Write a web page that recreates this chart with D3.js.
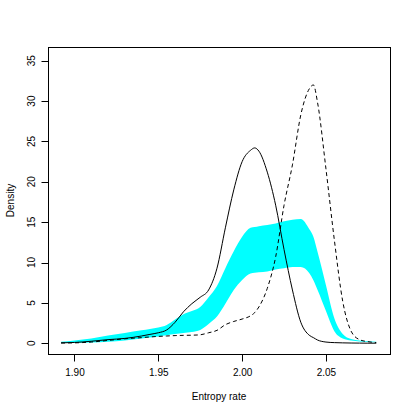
<!DOCTYPE html>
<html>
<head>
<meta charset="utf-8">
<script src="https://cdn.jsdelivr.net/npm/d3@7"></script>
<style>
body { margin: 0; background: #fff; }
text { font-family: "Liberation Sans", Arial, sans-serif; font-size: 10px; fill: #000; }
</style>
</head>
<body>
<svg id="chart" width="415" height="415"></svg>
<script>
// grid of entropy rate values the curves were read at
var rates = [1.892, 1.900, 1.910, 1.920, 1.930, 1.940, 1.945, 1.950, 1.955, 1.960, 1.965, 1.970, 1.975,
  1.980, 1.985, 1.990, 1.995, 2.000, 2.005, 2.0075, 2.010, 2.015, 2.020, 2.025, 2.030, 2.035, 2.040,
  2.0425, 2.045, 2.050, 2.055, 2.060, 2.065, 2.070, 2.075, 2.080];
// solid density
var solid = [0.05, 0.1, 0.25, 0.45, 0.6, 0.9, 1.1, 1.3, 1.65, 2.6, 3.9, 4.9, 5.7,
  6.6, 9.3, 14.3, 19.0, 22.5, 23.9, 24.2, 23.8, 21.2, 17.1, 11.6, 6.6, 2.6, 1.0,
  0.7, 0.4, 0.15, 0.08, 0.05, 0.03, 0.02, 0.01, 0.01];
// dashed density
var dashed = [0.03, 0.05, 0.15, 0.35, 0.55, 0.7, 0.78, 0.85, 0.9, 0.95, 0.98, 1.0, 1.05,
  1.3, 1.6, 2.3, 2.7, 3.0, 3.4, 3.8, 4.5, 6.8, 10.7, 17.1, 22.1, 28.3, 31.5,
  32.0, 29.8, 21.6, 12.8, 5.2, 1.5, 0.45, 0.2, 0.08];
// cyan envelope
var bandLow = [0.02, 0.04, 0.08, 0.18, 0.35, 0.6, 0.72, 0.85, 1.0, 1.15, 1.28, 1.4, 1.65,
  2.4, 3.3, 4.9, 6.6, 7.85, 8.65, 8.75, 8.8, 8.9, 9.15, 9.3, 9.45, 9.45, 8.7,
  7.8, 6.6, 4.0, 1.5, 0.6, 0.35, 0.22, 0.16, 0.12];
var bandHigh = [0.2, 0.35, 0.6, 0.95, 1.27, 1.6, 1.78, 1.95, 2.27, 2.95, 3.6, 4.0, 4.5,
  5.7, 7.1, 9.3, 11.4, 13.2, 14.3, 14.4, 14.5, 14.65, 14.85, 15.1, 15.3, 15.4, 14.15,
  13.2, 11.3, 7.2, 3.1, 1.15, 0.53, 0.35, 0.25, 0.2];

var xTicks = [1.90, 1.95, 2.00, 2.05];
var yTicks = [0, 5, 10, 15, 20, 25, 30, 35];

var svg = d3.select("#chart");
var pLeft = 48, pRight = 390, pTop = 47, pBottom = 354;

var x = d3.scaleLinear().domain([1.8842, 2.0882]).range([pLeft, pRight]);
var y = d3.scaleLinear().domain([-1.33, 36.70]).range([pBottom, pTop]);

var rows = rates.map(function(r, i) {
  return {x: r, s: solid[i], d: dashed[i], lo: bandLow[i], hi: bandHigh[i]};
});

var area = d3.area()
  .x(function(d) { return x(d.x); })
  .y0(function(d) { return y(d.lo); })
  .y1(function(d) { return y(d.hi); })
  .curve(d3.curveMonotoneX);

svg.append("path")
  .datum(rows)
  .attr("d", area)
  .attr("fill", "#00ffff");

var solidLine = d3.line()
  .x(function(d) { return x(d.x); })
  .y(function(d) { return y(d.s); })
  .curve(d3.curveMonotoneX);

var dashLine = d3.line()
  .x(function(d) { return x(d.x); })
  .y(function(d) { return y(d.d); })
  .curve(d3.curveMonotoneX);

svg.append("path")
  .datum(rows)
  .attr("d", solidLine)
  .attr("fill", "none")
  .attr("stroke", "#000")
  .attr("stroke-width", 1);

svg.append("path")
  .datum(rows)
  .attr("d", dashLine)
  .attr("fill", "none")
  .attr("stroke", "#000")
  .attr("stroke-width", 1)
  .attr("stroke-dasharray", "4,3");

// box
svg.append("rect")
  .attr("x", pLeft + 0.5)
  .attr("y", pTop + 0.5)
  .attr("width", pRight - pLeft)
  .attr("height", pBottom - pTop)
  .attr("fill", "none")
  .attr("stroke", "#000");

// x axis
var xAxis = svg.append("g").attr("transform", "translate(0," + (pBottom + 0.5) + ")");
xAxis.selectAll(".tk").data(xTicks).enter().append("line")
  .attr("x1", function(d) { return Math.round(x(d)) + 0.5; })
  .attr("x2", function(d) { return Math.round(x(d)) + 0.5; })
  .attr("y1", 0).attr("y2", 7)
  .attr("stroke", "#000");
xAxis.selectAll(".lb").data(xTicks).enter().append("text")
  .attr("x", function(d) { return x(d) + 0.5; })
  .attr("y", 21.5)
  .style("text-anchor", "middle")
  .text(function(d) { return d3.format(".2f")(d); });

// y axis
var yAxis = svg.append("g").attr("transform", "translate(" + (pLeft + 0.5) + ",0)");
yAxis.selectAll(".tk").data(yTicks).enter().append("line")
  .attr("y1", function(d) { return Math.round(y(d)) + 0.5; })
  .attr("y2", function(d) { return Math.round(y(d)) + 0.5; })
  .attr("x1", 0).attr("x2", -7)
  .attr("stroke", "#000");
yAxis.selectAll(".lb").data(yTicks).enter().append("text")
  .attr("transform", function(d) { return "translate(-14," + y(d) + ") rotate(-90)"; })
  .style("text-anchor", "middle")
  .text(function(d) { return d; });

svg.append("text")
  .attr("x", (pLeft + pRight) / 2)
  .attr("y", 400)
  .style("text-anchor", "middle")
  .text("Entropy rate");

svg.append("text")
  .attr("transform", "translate(14," + ((pTop + pBottom) / 2) + ") rotate(-90)")
  .style("text-anchor", "middle")
  .text("Density");
</script>
</body>
</html>
